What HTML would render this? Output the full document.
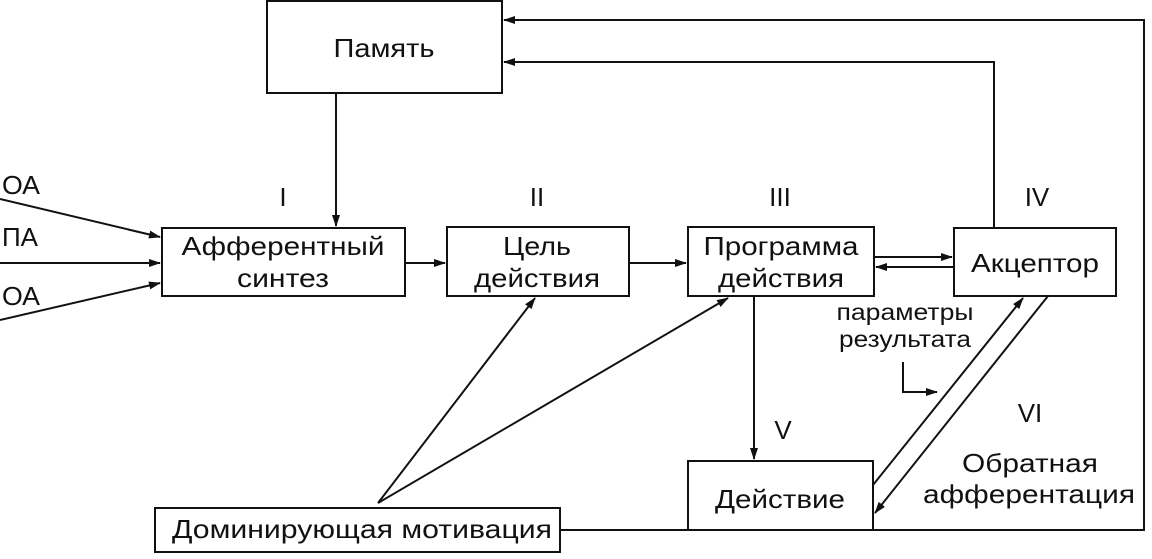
<!DOCTYPE html>
<html><head><meta charset="utf-8"><style>
body{margin:0;background:#fff}
svg text{font-family:"Liberation Sans",sans-serif;font-size:26px;fill:#111}
</style></head><body>
<svg width="1152" height="554" viewBox="0 0 1152 554" xmlns="http://www.w3.org/2000/svg">
<defs><marker id="a" markerWidth="12" markerHeight="8" refX="11" refY="4" orient="auto" markerUnits="userSpaceOnUse"><path d="M0,0 L12,4 L0,8 Z" fill="#111"/></marker></defs>
<g stroke="#111" stroke-width="2" fill="none">
<rect x="267" y="1" width="235" height="92"/>
<rect x="162" y="228" width="243" height="68"/>
<rect x="447" y="227" width="182" height="69"/>
<rect x="688" y="227" width="186" height="69"/>
<rect x="954" y="228" width="162" height="68"/>
<rect x="688" y="461" width="185" height="69"/>
<rect x="155" y="508" width="405" height="44"/>
<path d="M560,530 L1144,530 L1144,20 L504,20" marker-end="url(#a)"/>
<path d="M994,228 L994,62 L504,62" marker-end="url(#a)"/>
<path d="M336,93 L336,226" marker-end="url(#a)"/>
<path d="M0,199 L160,237" marker-end="url(#a)"/>
<path d="M0,263 L160,263" marker-end="url(#a)"/>
<path d="M0,320 L160,283" marker-end="url(#a)"/>
<path d="M405,263 L445,263" marker-end="url(#a)"/>
<path d="M629,263 L686,263" marker-end="url(#a)"/>
<path d="M874,257 L952,257" marker-end="url(#a)"/>
<path d="M954,267 L876,267" marker-end="url(#a)"/>
<path d="M754,296 L754,459" marker-end="url(#a)"/>
<path d="M873,485 L1023,298" marker-end="url(#a)"/>
<path d="M1048,296 L875,513" marker-end="url(#a)"/>
<path d="M378,503 L535,298" marker-end="url(#a)"/>
<path d="M378,503 L728,298" marker-end="url(#a)"/>
<path d="M903,362 L903,392 L937,392" marker-end="url(#a)"/>
</g>
<g text-anchor="middle">
<text x="384" y="57" textLength="101" lengthAdjust="spacingAndGlyphs">Память</text>
<text x="283" y="255" textLength="203" lengthAdjust="spacingAndGlyphs">Афферентный</text>
<text x="283" y="287" textLength="92" lengthAdjust="spacingAndGlyphs">синтез</text>
<text x="537" y="255" textLength="68" lengthAdjust="spacingAndGlyphs">Цель</text>
<text x="537" y="287" textLength="126" lengthAdjust="spacingAndGlyphs">действия</text>
<text x="781" y="255" textLength="155" lengthAdjust="spacingAndGlyphs">Программа</text>
<text x="781" y="287" textLength="126" lengthAdjust="spacingAndGlyphs">действия</text>
<text x="1035" y="272" textLength="128" lengthAdjust="spacingAndGlyphs">Акцептор</text>
<text x="780" y="508" textLength="130" lengthAdjust="spacingAndGlyphs">Действие</text>
<text x="362" y="538" textLength="380" lengthAdjust="spacingAndGlyphs">Доминирующая мотивация</text>
<text x="283" y="206">I</text>
<text x="537" y="206">II</text>
<text x="780" y="206">III</text>
<text x="1037" y="206">IV</text>
<text x="783" y="439">V</text>
<text x="1030" y="422">VI</text>
<text x="1030" y="472" textLength="136" lengthAdjust="spacingAndGlyphs">Обратная</text>
<text x="1029" y="503" textLength="212" lengthAdjust="spacingAndGlyphs">афферентация</text>
<text x="905" y="320" style="font-size:23px" textLength="137" lengthAdjust="spacingAndGlyphs">параметры</text>
<text x="905" y="347" style="font-size:23px" textLength="132" lengthAdjust="spacingAndGlyphs">результата</text>
</g>
<g>
<text x="2" y="194" textLength="38" lengthAdjust="spacingAndGlyphs">ОА</text>
<text x="2" y="246" textLength="36" lengthAdjust="spacingAndGlyphs">ПА</text>
<text x="2" y="305" textLength="38" lengthAdjust="spacingAndGlyphs">ОА</text>
</g>
</svg>
</body></html>
